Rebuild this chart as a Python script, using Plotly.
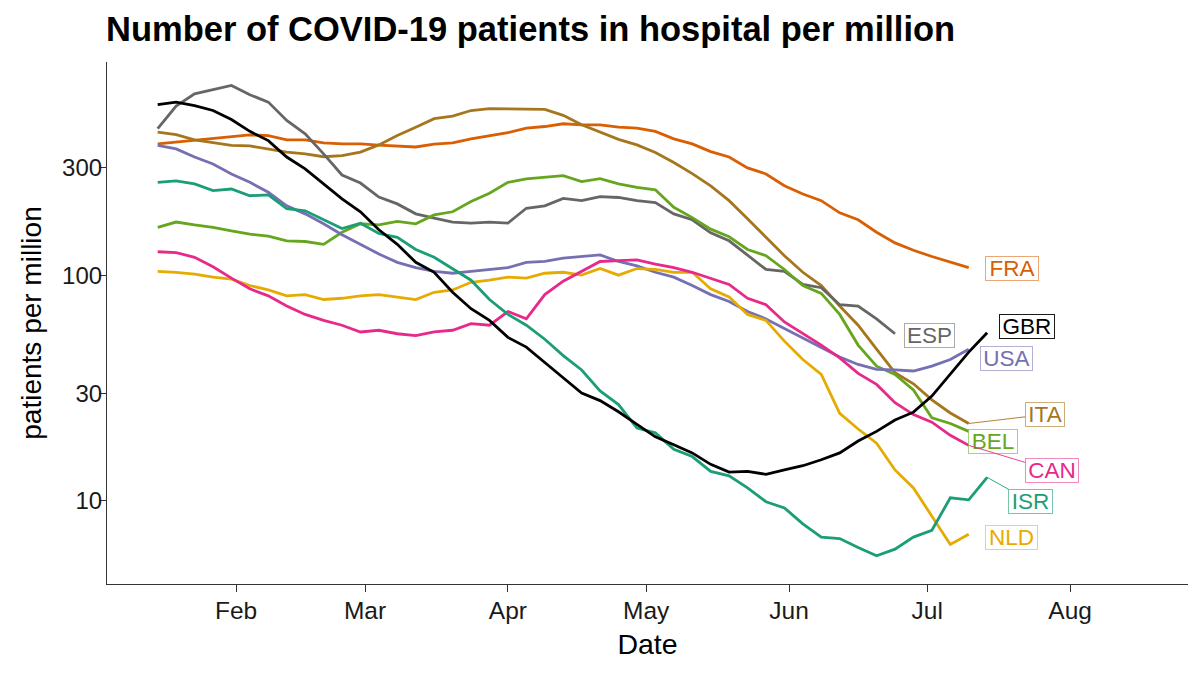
import numpy as np
import pandas as pd
import plotly.graph_objects as go

# ---- data (one point every 4 days from 15 Jan 2021) ----
start_date = "2021-01-15"
step_days = "4D"

fra = [382, 389, 398, 406, 412, 419, 416, 398, 398, 386, 382, 382, 377, 373, 370, 381, 386, 402,
       416, 428, 449, 456, 469, 464, 464, 453, 449, 434, 402, 382, 353, 334, 299, 281, 249, 229,
       214, 189, 176, 155, 139, 129, 121, 114, 108]
gbr = [570, 585, 565, 537, 490, 434, 395, 334, 296, 254, 218, 191, 159, 137, 114, 103, 84, 71,
       63, 53, 48, 41, 35, 30, 27.8, 24.8, 21.8, 19.2, 17.7, 16.3, 14.5, 13.4, 13.5, 13.1, 13.7,
       14.3, 15.2, 16.3, 18.4, 20.3, 22.8, 24.7, 29.1, 36.3, 45.6, 55.6]
esp = [446, 562, 637, 666, 694, 631, 585, 485, 423, 345, 278, 256, 222, 207, 187, 179, 172, 170,
       172, 170, 198, 203, 219, 214, 223, 221, 214, 210, 187, 176, 154, 142, 123, 106, 104, 91,
       88, 74, 73, 64, 55]
usa = [376, 363, 334, 311, 281, 258, 233, 203, 187, 169, 151, 137, 124, 114, 108, 104, 102, 104,
       106, 108, 114, 115, 119, 121, 123, 115, 110, 103, 98, 90, 82, 76.5, 69, 64, 58, 53, 48,
       43.4, 40.2, 38.2, 38, 37.6, 39.5, 42.3, 46.9]
ita = [431, 420, 398, 386, 376, 374, 363, 351, 345, 335, 339, 351, 378, 416, 453, 494, 507, 537,
       547, 548, 545, 543, 511, 464, 432, 400, 378, 350, 316, 282, 249, 214, 178, 147, 122, 103,
       90, 73, 60, 47, 37, 33, 28, 24.5, 22]
bel = [163, 172, 167, 163, 157, 152, 149, 142, 141, 137, 155, 169, 167, 173, 169, 185, 191, 212,
       231, 258, 267, 272, 276, 260, 268, 254, 245, 239, 200, 180, 160, 148, 130, 122, 106, 90,
       83, 67, 49, 39.5, 36.3, 31, 23.3, 22, 20.3]
can = [127, 126, 120, 109, 97, 87, 81, 73, 67, 63, 60, 56, 57, 55, 54, 56, 57, 61, 60, 69, 64,
       82, 94, 104, 115, 116, 117, 112, 108, 103, 97, 91, 79, 74, 62, 55, 49, 43, 36.7, 32.8,
       27.2, 24.1, 22.3, 19.5, 17.6]
isr = [258, 262, 254, 237, 241, 225, 227, 197, 193, 177, 161, 170, 153, 147, 130, 120, 107, 95,
       78, 67, 60, 52, 44, 38, 30.7, 26.7, 21, 20, 16.9, 15.7, 13.5, 12.9, 11.4, 9.9, 9.3, 7.9,
       6.9, 6.8, 6.2, 5.7, 6.1, 6.9, 7.4, 10.3, 10.1, 12.7]
nld = [104, 103, 101, 98, 96, 90, 86, 81, 82, 78, 79, 81, 82, 80, 78, 84, 86, 93, 95, 98, 97,
       102, 103, 100, 107, 100, 107, 106, 103, 103, 87, 80, 67, 63, 51, 42.3, 36.3, 24.4, 20.8,
       18, 13.7, 11.4, 8.5, 6.4, 7.1]

countries = ["FRA", "ITA", "ESP", "BEL", "USA", "NLD", "CAN", "ISR", "GBR"]
values = {"FRA": fra, "ITA": ita, "ESP": esp, "BEL": bel, "USA": usa,
          "NLD": nld, "CAN": can, "ISR": isr, "GBR": gbr}

y_tick_vals = [10, 30, 100, 300]
x_tick_vals = ["2021-02-01", "2021-03-01", "2021-04-01", "2021-05-01",
               "2021-06-01", "2021-07-01", "2021-08-01"]

# ---- styles ----
colors = {"FRA": "#d95f02", "ITA": "#a6761d", "ESP": "#666666", "BEL": "#66a61e",
          "USA": "#7570b3", "NLD": "#e6ab02", "CAN": "#e7298a", "ISR": "#1b9e77",
          "GBR": "#000000"}
border_colors = {"FRA": "rgba(217,95,2,0.55)", "ITA": "rgba(166,118,29,0.6)",
                 "ESP": "rgba(102,102,102,0.55)", "BEL": "rgba(102,166,30,0.55)",
                 "USA": "rgba(117,112,179,0.55)", "NLD": "rgba(230,171,2,0.55)",
                 "CAN": "rgba(231,41,138,0.55)", "ISR": "rgba(27,158,119,0.6)",
                 "GBR": "rgba(0,0,0,0.9)"}
# label offsets (pixels) from the last point of each line, segment flag, box width
label_style = {"FRA": (43, 1, False, 52), "ESP": (34, 2, False, 49),
               "GBR": (40, -6, False, 54), "USA": (38, 9, False, 51),
               "ITA": (76, -9, True, 38), "BEL": (24, 10, False, 48),
               "CAN": (83, 25, True, 52), "ISR": (43, 24, True, 43),
               "NLD": (43, 3, False, 51)}

dates = pd.date_range(start_date, periods=max(len(v) for v in values.values()), freq=step_days)

fig = go.Figure()
for c in countries:
    vals = values[c]
    fig.add_trace(go.Scatter(x=dates[:len(vals)], y=vals, mode="lines", name=c,
                             line=dict(color=colors[c], width=2.8), showlegend=False))

font_family = "Liberation Sans, Arial, Helvetica, sans-serif"
annotations = []
for c in countries:
    vals = values[c]
    ax, ay, seg, w = label_style[c]
    annotations.append(dict(
        x=dates[len(vals) - 1], y=np.log10(vals[-1]), xref="x", yref="y",
        text=c, showarrow=True, ax=ax, ay=ay, axref="pixel", ayref="pixel",
        arrowhead=0, arrowwidth=0.9,
        arrowcolor=colors[c] if seg else "rgba(0,0,0,0)",
        font=dict(family=font_family, size=22.5, color=colors[c]),
        width=w, height=23, align="center", valign="middle",
        bgcolor="white", bordercolor=border_colors[c], borderwidth=1, borderpad=0,
    ))

axis_col = "#333333"
W, H = 1192, 667   # page body adds an 8 px offset on the left and top
fig.update_layout(
    width=W, height=H,
    margin=dict(l=99, r=12, t=54, b=91),
    plot_bgcolor="white", paper_bgcolor="white",
    font=dict(family=font_family, color="black"),
    title=dict(text="<b>Number of COVID-19 patients in hospital per million</b>",
               x=98 / W, xanchor="left", y=1 - 20.7 / H, yanchor="middle",
               font=dict(size=34.5, color="black")),
    xaxis=dict(range=["2021-01-04", "2021-08-26 14:00"], tickvals=x_tick_vals,
               tickformat="%b", ticks="outside", ticklen=7, tickwidth=1.2, tickcolor=axis_col,
               showline=True, linecolor=axis_col, linewidth=1.2, showgrid=False,
               zeroline=False, tickfont=dict(size=24.5, color="#1a1a1a"),
               ticklabelstandoff=-3,
               title=dict(text="Date", font=dict(size=28.5), standoff=11), automargin=False),
    yaxis=dict(type="log", range=[0.631, 2.945], tickvals=y_tick_vals,
               ticktext=[str(v) for v in y_tick_vals], ticks="outside", ticklen=7,
               tickwidth=1.2, tickcolor=axis_col, showline=True, linecolor=axis_col,
               linewidth=1.2, showgrid=False, zeroline=False,
               tickfont=dict(size=24, color="#1a1a1a"), ticklabelstandoff=-8,
               title=dict(text="patients per million", font=dict(size=28), standoff=12),
               automargin=False),
    annotations=annotations,
)

fig.write_html("out.html")
